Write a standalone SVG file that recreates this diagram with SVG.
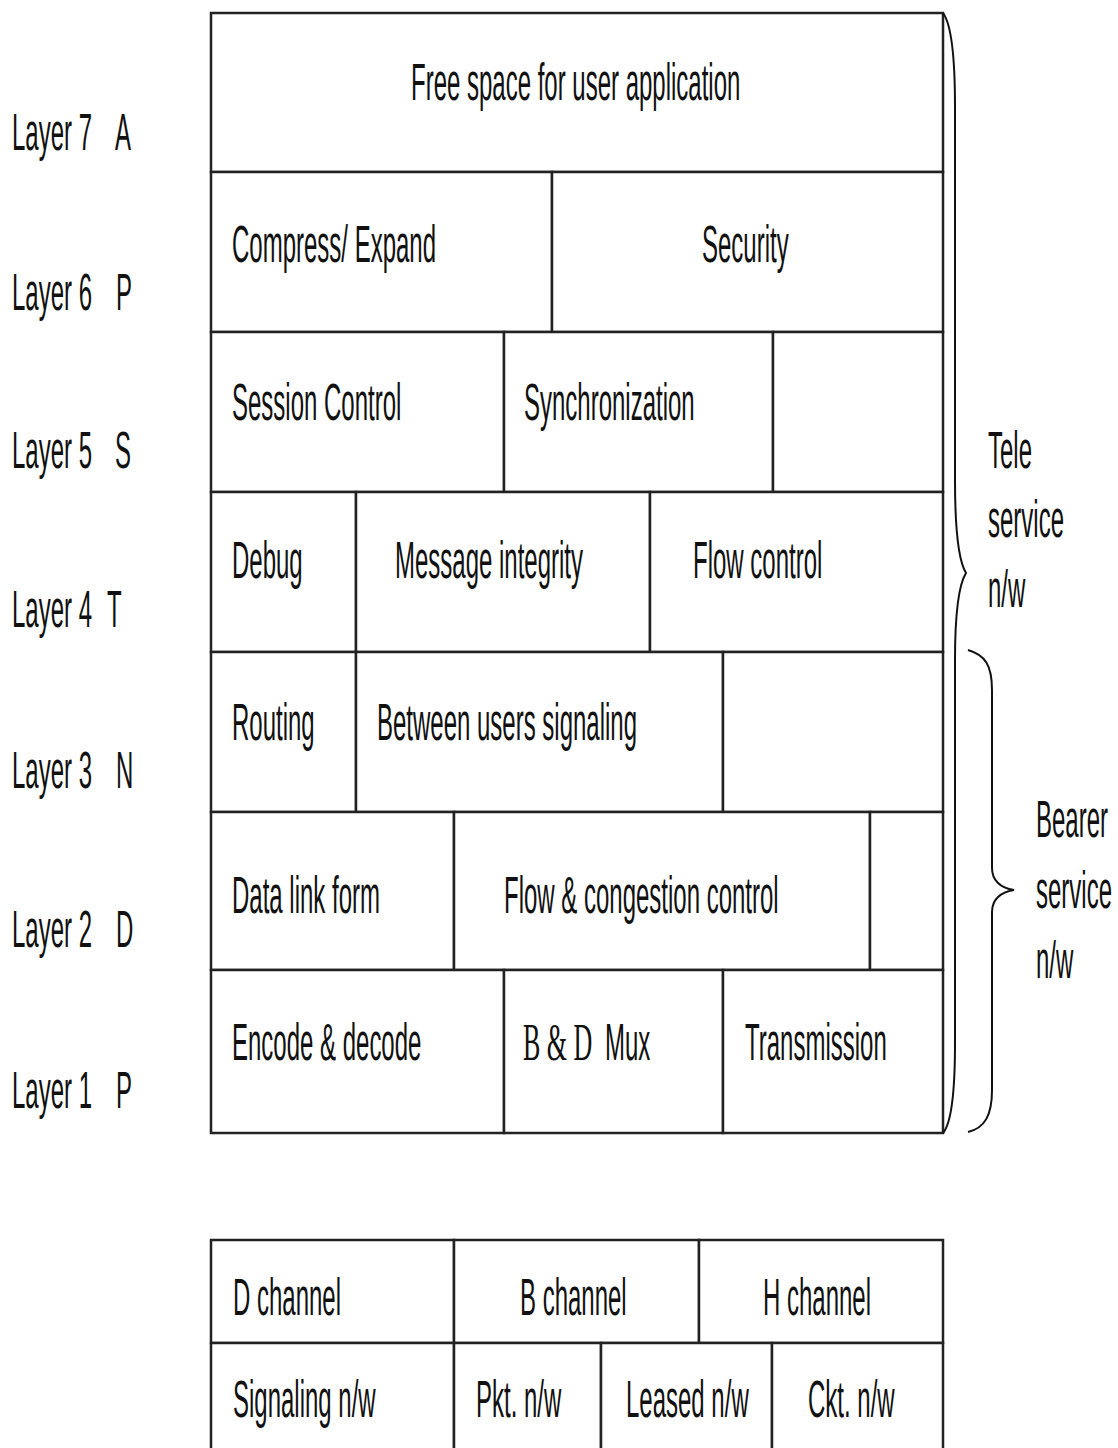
<svg xmlns="http://www.w3.org/2000/svg" width="1118" height="1448" viewBox="0 0 1118 1448">
<style>
text{font-family:"Liberation Sans",Arial,sans-serif;font-size:24px;fill:#111}
.serif{font-family:"Liberation Serif","Times New Roman",serif;font-size:26px}
.cell{fill:#fff;stroke:#222;stroke-width:2.5}
.brace{fill:none;stroke:#111;stroke-width:2}
</style>
<rect width="1118" height="1448" fill="#fff"/>
<g id="layer-labels">
<text transform="matrix(1 0 0 2.17 12 150)">Layer 7</text>
<text transform="matrix(1 0 0 2.17 115 150)">A</text>
<text transform="matrix(1 0 0 2.17 12 310)">Layer 6</text>
<text transform="matrix(1 0 0 2.17 116 310)">P</text>
<text transform="matrix(1 0 0 2.17 12 468)">Layer 5</text>
<text transform="matrix(1 0 0 2.17 115 468)">S</text>
<text transform="matrix(1 0 0 2.17 12 627)">Layer 4</text>
<text transform="matrix(1 0 0 2.17 107 627)">T</text>
<text transform="matrix(1 0 0 2.17 12 788)">Layer 3</text>
<text transform="matrix(1 0 0 2.17 116 788)">N</text>
<text transform="matrix(1 0 0 2.17 12 947)">Layer 2</text>
<text transform="matrix(1 0 0 2.17 116 947)">D</text>
<text transform="matrix(1 0 0 2.17 12 1108)">Layer 1</text>
<text transform="matrix(1 0 0 2.17 116 1108)">P</text>
</g>
<g id="row7">
<g id="free-space"><rect class="cell" x="211" y="13" width="732" height="159"/>
<text transform="matrix(1 0 0 2.17 411 100)">Free space for user application</text></g>
</g>
<g id="row6">
<g id="compress"><rect class="cell" x="211" y="172" width="341" height="160"/>
<text transform="matrix(1 0 0 2.17 232 262)">Compress/ Expand</text></g>
<g id="security"><rect class="cell" x="552" y="172" width="391" height="160"/>
<text transform="matrix(1 0 0 2.17 702 262)">Security</text></g>
</g>
<g id="row5">
<g id="session"><rect class="cell" x="211" y="332" width="293" height="160"/>
<text transform="matrix(1 0 0 2.17 232 420)">Session Control</text></g>
<g id="sync"><rect class="cell" x="504" y="332" width="269" height="160"/>
<text transform="matrix(1 0 0 2.17 524 420)">Synchronization</text></g>
<g id="row5-empty"><rect class="cell" x="773" y="332" width="170" height="160"/></g>
</g>
<g id="row4">
<g id="debug"><rect class="cell" x="211" y="492" width="145" height="160"/>
<text transform="matrix(1 0 0 2.17 232 578)">Debug</text></g>
<g id="msg-integrity"><rect class="cell" x="356" y="492" width="294" height="160"/>
<text transform="matrix(1 0 0 2.17 395 578)">Message integrity</text></g>
<g id="flow-control"><rect class="cell" x="650" y="492" width="293" height="160"/>
<text transform="matrix(1 0 0 2.17 693 578)">Flow control</text></g>
</g>
<g id="row3">
<g id="routing"><rect class="cell" x="211" y="652" width="145" height="160"/>
<text transform="matrix(1 0 0 2.17 232 740)">Routing</text></g>
<g id="between-users"><rect class="cell" x="356" y="652" width="367" height="160"/>
<text transform="matrix(1 0 0 2.17 377 740)">Between users signaling</text></g>
<g id="row3-empty"><rect class="cell" x="723" y="652" width="220" height="160"/></g>
</g>
<g id="row2">
<g id="data-link"><rect class="cell" x="211" y="812" width="243" height="158"/>
<text transform="matrix(1 0 0 2.17 232 913)">Data link form</text></g>
<g id="flow-congestion"><rect class="cell" x="454" y="812" width="416" height="158"/>
<text transform="matrix(1 0 0 2.17 504 913)">Flow &amp; congestion control</text></g>
<g id="row2-empty"><rect class="cell" x="870" y="812" width="73" height="158"/></g>
</g>
<g id="row1">
<g id="encode"><rect class="cell" x="211" y="970" width="293" height="163"/>
<text transform="matrix(1 0 0 2.17 232 1060)">Encode &amp; decode</text></g>
<g id="bd-mux"><rect class="cell" x="504" y="970" width="219" height="163"/>
<text class="serif" transform="matrix(1 0 0 2.0 523 1060)">B &amp; D</text>
<text transform="matrix(1 0 0 2.17 605 1060)">Mux</text></g>
<g id="transmission"><rect class="cell" x="723" y="970" width="220" height="163"/>
<text transform="matrix(1 0 0 2.17 745 1060)">Transmission</text></g>
</g>
<g id="channels">
<g id="d-channel"><rect class="cell" x="211" y="1240" width="243" height="103"/>
<text transform="matrix(1 0 0 2.17 233 1315)">D channel</text></g>
<g id="b-channel"><rect class="cell" x="454" y="1240" width="245" height="103"/>
<text transform="matrix(1 0 0 2.17 520 1315)">B channel</text></g>
<g id="h-channel"><rect class="cell" x="699" y="1240" width="244" height="103"/>
<text transform="matrix(1 0 0 2.17 763 1315)">H channel</text></g>
</g>
<g id="networks">
<g id="signaling-nw"><rect class="cell" x="211" y="1343" width="243" height="120"/>
<text transform="matrix(1 0 0 2.17 233 1417)">Signaling n/w</text></g>
<g id="pkt-nw"><rect class="cell" x="454" y="1343" width="147" height="120"/>
<text transform="matrix(1 0 0 2.17 476 1417)">Pkt. n/w</text></g>
<g id="leased-nw"><rect class="cell" x="601" y="1343" width="171" height="120"/>
<text transform="matrix(1 0 0 2.17 626 1417)">Leased n/w</text></g>
<g id="ckt-nw"><rect class="cell" x="772" y="1343" width="171" height="120"/>
<text transform="matrix(1 0 0 2.17 808 1417)">Ckt. n/w</text></g>
</g>
<g id="connectors">
<path class="brace" d="M943,13 C952,25 955,60 955,107 L955,480 C955,530 958,560 966,573 C958,586 955,616 955,660 L955,1043 C955,1100 950,1125 943,1133"/>
<path class="brace" d="M968,650 C985,655 992,665 992,690 L992,868 C992,880 1000,888 1014,890 C1000,892 992,900 992,912 L992,1090 C992,1115 985,1128 968,1132"/>
</g>
<g id="tele-label">
<text transform="matrix(1 0 0 2.17 988 468)">Tele</text>
<text transform="matrix(1 0 0 2.17 988 537)">service</text>
<text transform="matrix(1 0 0 2.17 988 607)">n/w</text>
</g>
<g id="bearer-label">
<text transform="matrix(1 0 0 2.17 1036 837)">Bearer</text>
<text transform="matrix(1 0 0 2.17 1036 908)">service</text>
<text transform="matrix(1 0 0 2.17 1036 978)">n/w</text>
</g>
</svg>
